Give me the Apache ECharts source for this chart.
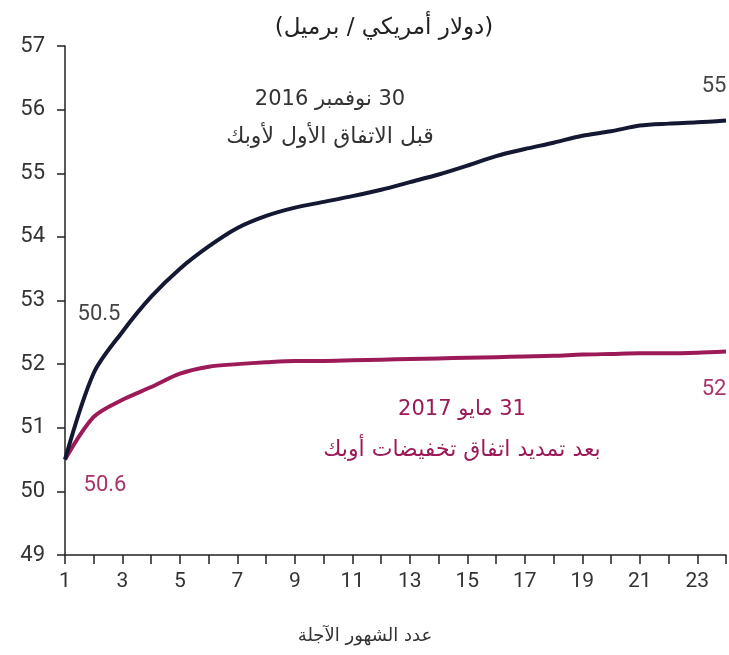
<!DOCTYPE html>
<html>
<head>
<meta charset="utf-8">
<script src="https://cdn.jsdelivr.net/npm/echarts@6/dist/echarts.min.js"></script>
<style>
  html, body { margin: 0; padding: 0; background: #fff; }
  #chart { width: 729px; height: 655px; }
</style>
</head>
<body>
<div id="chart"></div>
<script>
// أشهر العقود الآجلة
const months = [1, 2, 3, 4, 5, 6, 7, 8, 9, 10, 11, 12, 13, 14, 15, 16, 17, 18, 19, 20, 21, 22, 23, 24];
// 30 نوفمبر 2016
const beforeDeal = [50.5, 51.86, 52.51, 53.06, 53.5, 53.85, 54.14, 54.33, 54.46, 54.55, 54.64, 54.74,
  54.86, 54.98, 55.12, 55.27, 55.38, 55.48, 55.59, 55.66, 55.75, 55.78, 55.8, 55.83];
// 31 مايو 2017
const afterExtension = [50.5, 51.17, 51.44, 51.64, 51.85, 51.96, 52.0, 52.03, 52.05, 52.05, 52.06, 52.07,
  52.08, 52.09, 52.1, 52.11, 52.12, 52.13, 52.15, 52.16, 52.17, 52.17, 52.18, 52.2];

const navy = '#141833';
const crimson = '#9c1a57';
const numFont = '"Liberation Sans Narrow", "Roboto", sans-serif';
const arFont = '"DejaVu Sans", "Noto Sans", sans-serif';
// حصر النص العربي في اتجاه من اليمين لليسار
const rtl = s => '\u202B' + s + '\u202C';

const chart = echarts.init(document.getElementById('chart'));

chart.setOption({
  animation: false,
  grid: { left: 65, right: 2, top: 46, bottom: 100 },
  xAxis: {
    type: 'value',
    min: 1,
    max: 24,
    interval: 1,
    axisLine: { lineStyle: { color: '#222', width: 1.5 } },
    axisTick: { show: true, length: 9, lineStyle: { color: '#222', width: 1.5 } },
    axisLabel: {
      margin: 16,
      fontFamily: numFont,
      fontSize: 21,
      color: '#333',
      formatter: v => (v % 2 === 1 ? String(v) : '')
    },
    splitLine: { show: false }
  },
  yAxis: {
    type: 'value',
    min: 49,
    max: 57,
    interval: 1,
    axisLine: { show: true, lineStyle: { color: '#222', width: 1.5 } },
    axisTick: { show: true, length: 8, lineStyle: { color: '#222', width: 1.5 } },
    axisLabel: { margin: 20, fontFamily: numFont, fontSize: 22, color: '#333' },
    splitLine: { show: false }
  },
  series: [
    {
      name: '30 نوفمبر 2016',
      type: 'line',
      data: months.map((m, i) => [m, beforeDeal[i]]),
      smooth: 0.3,
      symbol: 'none',
      lineStyle: { color: navy, width: 4 },
      z: 3
    },
    {
      name: '31 مايو 2017',
      type: 'line',
      data: months.map((m, i) => [m, afterExtension[i]]),
      smooth: 0.3,
      symbol: 'none',
      lineStyle: { color: crimson, width: 4 },
      z: 2
    }
  ],
  graphic: [
    { type: 'text', x: 384, y: 28,
      style: { text: '(دولار أمريكي / برميل)', font: '23px ' + arFont, fill: '#222', align: 'center', verticalAlign: 'middle' } },
    { type: 'text', x: 365, y: 636,
      style: { text: 'عدد الشهور الآجلة', font: '18px ' + arFont, fill: '#333', align: 'center', verticalAlign: 'middle' } },
    { type: 'text', x: 330, y: 100,
      style: { text: rtl('30 نوفمبر 2016'), font: '21px ' + arFont, fill: '#333', align: 'center', verticalAlign: 'middle' } },
    { type: 'text', x: 330, y: 137,
      style: { text: 'قبل الاتفاق الأول لأوبك', font: '22px ' + arFont, fill: '#333', align: 'center', verticalAlign: 'middle' } },
    { type: 'text', x: 462, y: 410,
      style: { text: rtl('31 مايو 2017'), font: '21px ' + arFont, fill: crimson, align: 'center', verticalAlign: 'middle' } },
    { type: 'text', x: 462, y: 450,
      style: { text: 'بعد تمديد اتفاق تخفيضات أوبك', font: '22px ' + arFont, fill: crimson, align: 'center', verticalAlign: 'middle' } },
    { type: 'text', x: 99, y: 314,
      style: { text: '50.5', font: '22px ' + numFont, fill: '#444', align: 'center', verticalAlign: 'middle' } },
    { type: 'text', x: 105, y: 485,
      style: { text: '50.6', font: '22px ' + numFont, fill: '#a8346a', align: 'center', verticalAlign: 'middle' } },
    { type: 'text', x: 714, y: 86,
      style: { text: '55', font: '22px ' + numFont, fill: '#444', align: 'center', verticalAlign: 'middle' } },
    { type: 'text', x: 714, y: 389,
      style: { text: '52', font: '22px ' + numFont, fill: '#a8346a', align: 'center', verticalAlign: 'middle' } }
  ]
});
</script>
</body>
</html>
